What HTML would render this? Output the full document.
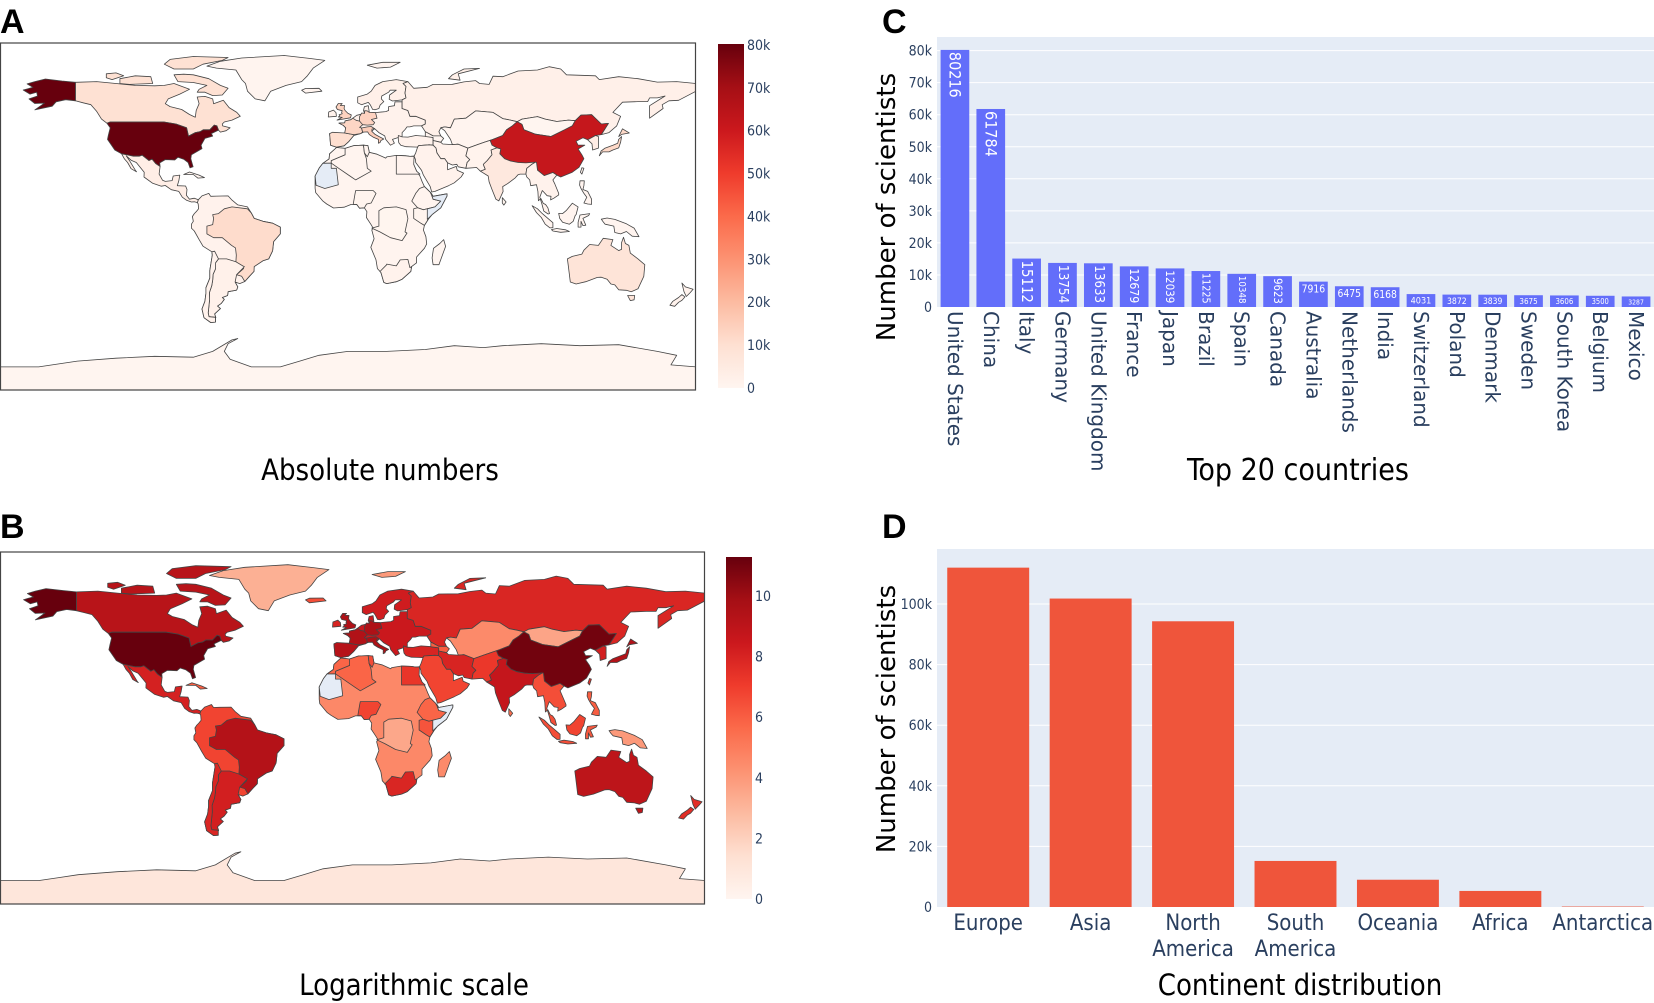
<!DOCTYPE html>
<html><head><meta charset="utf-8">
<style>
html,body{margin:0;padding:0;background:#fff;}
svg{display:block;}
.tk{font-family:"DejaVu Sans Condensed","DejaVu Sans","Liberation Sans",sans-serif;fill:#2a3f5f;}
.ttl{font-family:"DejaVu Sans Condensed","DejaVu Sans","Liberation Sans",sans-serif;fill:#000;}
.lbl{font-family:"Liberation Sans",sans-serif;font-weight:bold;fill:#000;}
</style></head>
<body>
<svg id="fig" width="1654" height="1003" viewBox="0 0 1654 1003" xmlns="http://www.w3.org/2000/svg">
<defs>
<linearGradient id="reds" x1="0" y1="1" x2="0" y2="0">
<stop offset="0" stop-color="rgb(255,245,240)"/><stop offset="0.125" stop-color="rgb(254,224,210)"/>
<stop offset="0.25" stop-color="rgb(252,187,161)"/><stop offset="0.375" stop-color="rgb(252,146,114)"/>
<stop offset="0.5" stop-color="rgb(251,106,74)"/><stop offset="0.625" stop-color="rgb(239,59,44)"/>
<stop offset="0.75" stop-color="rgb(203,24,29)"/><stop offset="0.875" stop-color="rgb(165,15,21)"/>
<stop offset="1" stop-color="rgb(103,0,13)"/></linearGradient>
<clipPath id="clipA"><rect x="0" y="43" width="696" height="347"/></clipPath>
<clipPath id="clipB"><rect x="0" y="552" width="705" height="352"/></clipPath>
</defs>
<text class="lbl" x="0" y="33" font-size="34">A</text>
<text class="lbl" x="0" y="538" font-size="34">B</text>
<text class="lbl" x="882" y="33" font-size="34">C</text>
<text class="lbl" x="882" y="538" font-size="34">D</text>
<g id="mapA"></g>
<g id="mapB"></g>
<g id="chartC"></g>
<g id="chartD"></g>
<text class="ttl" x="380" y="480" font-size="29" text-anchor="middle">Absolute numbers</text>
<text class="ttl" x="414" y="995" font-size="29" text-anchor="middle">Logarithmic scale</text>
<text class="ttl" x="1298" y="480" font-size="30" text-anchor="middle">Top 20 countries</text>
<text class="ttl" x="1300" y="995" font-size="29" text-anchor="middle">Continent distribution</text>
</svg>
<script>
// ---- Chart C data ----
const countries = ["United States","China","Italy","Germany","United Kingdom","France","Japan","Brazil","Spain","Canada","Australia","Netherlands","India","Switzerland","Poland","Denmark","Sweden","South Korea","Belgium","Mexico"];
const countryValues = [80216,61784,15112,13754,13633,12679,12039,11225,10348,9623,7916,6475,6168,4031,3872,3839,3675,3606,3500,3287];
const cTicks = [0,10000,20000,30000,40000,50000,60000,70000,80000];
const cTickLabels = ["0","10k","20k","30k","40k","50k","60k","70k","80k"];
// ---- Chart D data ----
const continents = [["Europe"],["Asia"],["North","America"],["South","America"],["Oceania"],["Africa"],["Antarctica"]];
const continentValues = [112000,101800,94300,15200,9000,5300,150];
const dTicks = [0,20000,40000,60000,80000,100000];
const dTickLabels = ["0","20k","40k","60k","80k","100k"];
// ---- Map data ----
const regionNames = ["Antarctica","Greenland","Canada","Baffin","Victoria","Ellesmere","Banks","Alaska","USA","Mexico","Cuba","SouthAmerica","Brazil","Argentina","Chile","Iceland","Scandinavia","Europe","Spain","France","Germany","Italy","UK","Ireland","Svalbard","Russia","NovayaZemlya","Turkey","Caucasus","CentralAsia","Mongolia","China","Korea","Japan","Hokkaido","Taiwan","Iran","Pakistan","India","SriLanka","Arabia","SEAsia","Philippines","Sumatra","Java","Borneo","Sulawesi","NewGuinea","Australia","Tasmania","NZNorth","NZSouth","Africa","Madagascar","Algeria","Morocco","Tunisia","Egypt","Nigeria","Ethiopia","Kenya","DRC","SouthAfrica","Mauritania","Somalia"];
const absValues = [80,300,9623,9623,9623,9623,9623,80216,80216,3287,300,1200,11225,1900,1500,400,2500,1500,10348,12679,13754,15112,13633,1200,300,2200,2200,1500,300,400,100,61784,3606,12039,12039,1000,1500,900,6168,200,1500,1200,300,400,400,400,400,300,7916,7916,1200,1200,300,100,400,400,300,800,600,500,600,200,1500,null,null];
const logValues = [1,3.2,9.17,9.17,9.17,9.17,9.17,11.29,11.29,8.1,6,6.8,9.33,8.2,7.9,6.5,8.3,8.5,9.24,9.45,9.53,9.62,9.52,8,4,7.9,7.9,8,6,4.5,3.6,11.03,8.2,9.4,9.4,7.5,8,7.2,8.73,5.5,6.8,6.5,6,6.5,6.5,6.8,6.2,4,8.98,8.98,7.6,7.6,4.6,4.5,5.8,5.8,6.6,7.3,6.8,5.8,6.3,3.5,7.9,null,null];

const geo = {
Antarctica:[[-180,-90],[-180,-78],[-160,-78],[-150,-76.5],[-140,-75],[-120,-73.5],[-100,-72.5],[-80,-73],[-70,-70],[-60,-64],[-57,-63.3],[-62,-66],[-64,-70],[-61,-74],[-50,-78],[-35,-78],[-25,-75],[-15,-72],[0,-70],[20,-70],[40,-69],[55,-67],[70,-68],[80,-67],[100,-66],[120,-67],[140,-66.5],[160,-70],[170,-72],[167,-77],[180,-78],[180,-90]],
Greenland:[[-73,78],[-66,80.5],[-55,82.2],[-33,83.5],[-20,82],[-12,81],[-18,77],[-21,73],[-24,70],[-32,68],[-40,65],[-43,60],[-48,61],[-52,65],[-53,69],[-55,71],[-58,76],[-68,77]],
Canada:[[-141,60],[-141,69.6],[-130,70],[-120,69],[-110,68],[-100,67.8],[-95,68],[-90,69],[-82,66],[-87,63.5],[-93,61],[-94.5,58.5],[-92,57],[-86,55.5],[-82,52.9],[-79,51.5],[-78.5,55],[-77,58.5],[-78,62],[-74,62.3],[-70,61],[-69.5,58.5],[-64.5,60.3],[-61.5,56.5],[-57.5,54],[-55.7,52],[-60,50],[-64,49],[-65,48],[-64.8,47],[-61,46],[-63,44.5],[-66,43.8],[-67,44.8],[-67.8,47],[-69.2,47.4],[-71.5,45],[-74.9,45],[-76.5,44],[-79,43.5],[-82.5,41.7],[-83.5,46],[-89,48],[-95.2,49],[-123,49],[-124.7,48.4],[-127.5,50.5],[-130,54.5],[-133,58],[-137,59]],
Baffin:[[-80,73.5],[-72,71.5],[-66,68],[-62,66.5],[-65,63],[-70,62.7],[-74,64.5],[-78,64.5],[-77,66],[-73,68],[-80,69.5],[-88,70],[-90,73.5],[-85,73.8]],
Victoria:[[-118,69],[-113,68.5],[-101,69],[-102,72.5],[-110,73],[-118,71.5]],
Ellesmere:[[-90,76.5],[-80,76.5],[-75,79],[-65,81],[-62,82.5],[-80,83],[-92,81.5],[-95,79]],
Banks:[[-125,72],[-122,71],[-116,73],[-120,74.5],[-125,74]],
Alaska:[[-141,60],[-141,69.6],[-148,70.3],[-156.5,71.3],[-162,70],[-166,68.8],[-163,67],[-165.5,66.3],[-168,65.6],[-164.5,63.5],[-161,64.5],[-160.6,62.5],[-165,61],[-162,58.6],[-157,58.8],[-162,55.3],[-153,57.2],[-151,59.5],[-146,60.6]],
USA:[[-124.7,48.4],[-123,46],[-124,42],[-124.4,40],[-120.6,34.5],[-117.1,32.5],[-111,31.3],[-108,31.3],[-106.5,31.8],[-103,29],[-101.4,29.8],[-99.5,27.5],[-97.2,25.9],[-97.4,27.8],[-94.5,29.5],[-89.6,29.3],[-88,30.7],[-85,29.7],[-82.7,28],[-81.7,25.2],[-80.1,25.8],[-81.3,30],[-81,32],[-75.5,35.2],[-76,37],[-74,40.5],[-70,41.7],[-70.7,43],[-67,44.8],[-67.8,47],[-69.2,47.4],[-71.5,45],[-74.9,45],[-76.5,44],[-79,43.5],[-82.5,41.7],[-83.5,46],[-89,48],[-95.2,49],[-123,49]],
Mexico:[[-117.1,32.5],[-111,31.3],[-108,31.3],[-106.5,31.8],[-103,29],[-101.4,29.8],[-99.5,27.5],[-97.2,25.9],[-97.7,22],[-95.9,18.8],[-94.5,18.2],[-91,18.6],[-90.4,21],[-87,21.5],[-87.5,18.5],[-88.3,16],[-84,15.8],[-83.3,14],[-83.6,11],[-82,9],[-79.5,9.5],[-77.4,8.7],[-77.9,7.2],[-79.5,7.6],[-81,7.5],[-83.5,8.4],[-85.7,10],[-87.5,13],[-91.4,13.9],[-94.5,16.1],[-96.5,15.7],[-101,17.2],[-105.5,20.5],[-105.4,23],[-109.5,28],[-112.2,29.2],[-114.7,31.5],[-113,29],[-110,24],[-109.4,23.2],[-112.2,24.8],[-114,28],[-115.7,30]],
Cuba:[[-85,21.8],[-82,23.1],[-77,21.5],[-74.2,20.2],[-77.7,19.9],[-80,21.8]],
SouthAmerica:[[-77.4,8.7],[-75.5,10.7],[-72,12],[-71,10.5],[-68,10.6],[-62,10.7],[-60,8.5],[-57,6],[-52,5],[-50,1.8],[-48.5,-1],[-44,-2.5],[-39,-3.5],[-35,-5.5],[-35,-9],[-38.5,-13],[-39,-17.8],[-41,-22],[-44,-23],[-48.5,-26],[-48.6,-28.5],[-51,-31],[-53.4,-33.7],[-56,-34.8],[-58.4,-34],[-57,-36.5],[-57.6,-38.2],[-62,-39],[-62.3,-41],[-65,-42],[-64,-43],[-65.5,-45],[-67.5,-46.5],[-66,-47.8],[-69,-50.5],[-68.4,-52.4],[-70,-52.7],[-68.6,-54.8],[-71,-55],[-74.5,-52.5],[-75.5,-48],[-74,-44],[-73.5,-40],[-73.5,-37],[-71.5,-32],[-71.5,-28],[-70.2,-20],[-70.4,-18.3],[-75,-15.4],[-77,-12],[-79.5,-7.5],[-81,-6],[-81,-4],[-80,-2.5],[-80.5,0],[-79.5,1.5],[-78.5,2.5],[-77.3,4],[-77.5,6.5],[-77.9,7.2]],
Brazil:[[-60,5],[-52,4],[-50,1.8],[-48.5,-1],[-44,-2.5],[-39,-3.5],[-35,-5.5],[-35,-9],[-38.5,-13],[-39,-17.8],[-41,-22],[-44,-23],[-48.5,-26],[-48.6,-28.5],[-51,-31],[-53.4,-33.7],[-55,-31],[-57.6,-30.2],[-54,-27],[-54.6,-25.5],[-58,-23.5],[-57.8,-20],[-58.2,-16.3],[-60.2,-15],[-65,-11],[-69.5,-11],[-73,-9],[-73,-5],[-70,-4.2],[-69.5,-1],[-70,1],[-67,1.5],[-64,4]],
Argentina:[[-53.6,-26],[-57.6,-30.2],[-58.4,-34],[-57,-36.5],[-57.6,-38.2],[-62,-39],[-62.3,-41],[-65,-42],[-64,-43],[-65.5,-45],[-67.5,-46.5],[-66,-47.8],[-69,-50.5],[-68.4,-52.4],[-70,-52.7],[-68.6,-54.8],[-68.6,-52.3],[-71.9,-52],[-72.3,-50],[-71.9,-46],[-71.6,-43],[-71.7,-39.5],[-70.5,-36],[-70,-33],[-69.8,-30],[-68.5,-27],[-68.5,-24],[-67,-22],[-62.8,-22],[-58,-23.5],[-54.6,-25.5]],
Chile:[[-70.4,-18.3],[-69,-18],[-67,-22],[-68.5,-24],[-68.5,-27],[-69.8,-30],[-70,-33],[-70.5,-36],[-71.7,-39.5],[-71.6,-43],[-71.9,-46],[-72.3,-50],[-71.9,-52],[-68.6,-52.3],[-68.6,-54.8],[-71,-55],[-74.5,-52.5],[-75.5,-48],[-74,-44],[-73.5,-40],[-73.5,-37],[-71.5,-32],[-71.5,-28],[-70.2,-20]],
Iceland:[[-22,64],[-13.5,65],[-15,66.5],[-22,66.4],[-24,65.5]],
Scandinavia:[[5,62],[5,59],[7,58],[10.5,59.2],[11.5,58],[12.8,55.5],[14,55.4],[16,56],[16.6,57.8],[18.5,59.6],[17.2,61],[17.5,62.5],[21,64.5],[21.8,65.5],[25,65.5],[21.5,63],[21.3,60.8],[23,59.9],[28,60.5],[30,61.5],[29.5,64],[30,67.5],[28.5,69],[31,70],[25,71],[18,70],[14,68],[12,65],[10,63.5]],
Europe:[[-9.5,43],[-9,37],[-6,36],[-2,36.7],[0.5,39],[3,42],[6.5,43],[9,44.3],[12.3,44.2],[13.7,45.6],[16,43.5],[19,41.8],[19.5,40],[22,37],[24,38],[23,40],[26,41],[28,41],[28,43.5],[29.6,45.2],[30.5,46.5],[32,46.5],[34,47],[38,47],[40,48],[40,50],[35,52],[32,52],[31,55],[28,56],[28,59.5],[24.3,59.5],[24,57.5],[21,57],[21,55],[19.5,54.4],[14.2,53.9],[11,54],[10.5,57.5],[8.5,57],[8,55],[8.6,53.5],[4.5,52.5],[2.5,51],[1.5,50.2],[-1.5,49.6],[-1.7,48.6],[-4.7,48.4],[-2.5,47.3],[-1.2,46],[-1.5,43.4]],
Spain:[[-9.5,43],[-9,37],[-6,36],[-2,36.7],[0.5,39],[3,42],[3,42.5],[-1.7,43.3],[-8,43.7]],
France:[[2.5,51],[4.2,49.9],[6,49.5],[8.2,49],[7.6,47.6],[6,46.2],[7,45.9],[7.6,43.8],[6.5,43],[3,42.5],[-1.7,43.3],[-1.2,46],[-2.5,47.3],[-4.7,48.4],[-1.7,48.6],[-1.5,49.6],[1.5,50.2]],
Germany:[[6,51.8],[6,49.5],[7.6,47.6],[10,47.4],[13,47.6],[13.8,48.7],[12.1,50.3],[15,51],[14.2,53.9],[11,54],[10,54.8],[8.6,54.9],[8.6,53.5],[7.1,53.7]],
Italy:[[7.6,43.8],[10.2,43.9],[11,42.5],[13,41.2],[15.7,40],[15.7,38],[16.6,38.4],[17,39.4],[18.5,40.2],[16,41.5],[14,42.6],[12.3,44.2],[12.4,45.4],[13.7,45.6],[12,46.7],[10,46.5],[7,45.9]],
UK:[[-5.7,50],[1.3,51.2],[1.7,52.7],[0,53.5],[-1.5,55],[-2,56],[-1.8,57.6],[-4,57.6],[-3,58.6],[-5,58.6],[-6.2,56.8],[-5.5,55.5],[-3,54.9],[-3.3,54],[-3,53.3],[-4.6,52.8],[-4.2,52.2],[-5,51.6],[-3,51.4]],
Ireland:[[-6,52],[-6.2,53.9],[-7.5,55.2],[-10,54.2],[-10.2,51.6]],
Svalbard:[[10,78.5],[18,80],[27,80],[22,77.5],[15,77]],
Russia:[[28,56],[31,55],[32,52],[35,52],[40,50],[40,48],[38,47],[40,44],[44,41.8],[48,41.8],[47,44],[48,46],[50,46.5],[53,46],[55,50.5],[61,51],[66,54.8],[75,54],[80,50.8],[84,50],[87.5,49.2],[90,50.5],[98,51.8],[102,50.5],[108,49.3],[114,50],[117.5,49.7],[120.5,52.6],[126,52.8],[131,48],[134.7,48.3],[131,42.5],[135,43.5],[139,47],[141,52],[137,54],[142,59.3],[150,59.6],[155,59.6],[156,61.5],[160,61.5],[164,62.5],[156,57.5],[156,51],[163,56],[162.5,58],[166,60],[171,60.3],[180,65],[180,69],[170,70],[160,69.7],[150,71.5],[140,72.5],[130,71],[128,73],[113,73.5],[110,76.5],[104,77.7],[98,76],[88,75.5],[80,72.5],[75,72.8],[73,68.5],[68,69],[66,70.5],[60,69.8],[54,68.6],[44,68.5],[41,67],[34,66.5],[31,70],[28.5,69],[30,67.5],[29.5,64],[30,61.5],[28,60.5],[28,59.5]],
NovayaZemlya:[[52,71.5],[58,70.7],[57,74],[68,76.8],[60,76.5],[54,73.5]],
Turkey:[[26,40],[26,42],[28,41.3],[31,41.2],[35,42],[41.5,41.5],[44,41],[44,39.4],[44,37],[42,37.2],[36.5,36.8],[36,36],[32.5,36.1],[30,36.2],[27.3,37],[26.3,38.3]],
Caucasus:[[40,41.5],[44,41],[44,39.4],[48,38.5],[49.5,40.5],[48,41.8],[44,41.8],[40,44]],
CentralAsia:[[48,46],[50,46.5],[53,46],[55,50.5],[61,51],[66,54.8],[75,54],[80,50.8],[84,50],[87.5,49.2],[85,47],[82,45],[80,42],[75,40],[70.5,38.5],[67,37.3],[62,35.5],[57,37.5],[54,37.3],[53,40],[50,44.5]],
Mongolia:[[87.5,49.2],[90,50.5],[98,51.8],[102,50.5],[108,49.3],[114,50],[117.5,49.7],[116,47],[112,45],[105,41.5],[97,42.7],[91,45],[90,47.8]],
China:[[73.5,39.5],[75,40],[80,42],[82,45],[85,47],[87.5,49.2],[90,47.8],[91,45],[97,42.7],[105,41.5],[112,45],[116,47],[117.5,49.7],[120.5,52.6],[126,52.8],[131,48],[134.7,48.3],[131,42.5],[128,42],[124,39.8],[121.5,40.8],[118,39],[119,37],[122.5,37],[119,35],[121,32],[122,30],[119.5,25.5],[116,23],[110,20.5],[108,21.5],[106,22.8],[101.5,21.2],[98,24],[97.5,28],[92,27.8],[88,28],[84,28.8],[81,30],[78.5,32.5],[79,35],[77,35.6],[74.5,37]],
Korea:[[124,39.8],[128,42],[129.5,41.5],[129.5,35.5],[126.5,34.5],[126.2,37.7]],
Japan:[[130,31.5],[131.7,33.5],[135,33.5],[137,34.5],[140,35.6],[141,38.5],[141.5,41.5],[140,40],[139.5,38],[137,37],[133,35.5],[130.9,34]],
Hokkaido:[[140,41.5],[141.5,42.6],[145.5,43.3],[142,45.5]],
Taiwan:[[120.2,23],[121,22],[122,25],[121,25.3]],
Iran:[[44,39.4],[48,38.5],[49,37.6],[54,37.3],[57,37.5],[62,35.5],[61,31.5],[63,29.5],[61.6,28],[61,25],[57,25.8],[56.3,27.1],[54,26.7],[51.5,27.8],[50,30],[48,30],[46,33],[45.5,35.5],[44,37]],
Pakistan:[[61,25],[66.5,25.4],[68.5,23.5],[71,24.5],[70,27],[72,29],[74.5,32],[74,34.5],[77,35.6],[74.5,37],[73.5,39.5],[70.5,38.5],[67,37.3],[62,35.5],[61,31.5],[63,29.5],[61.6,28]],
India:[[68.5,23.5],[72.5,21],[73,18],[74.5,14],[76.5,9],[78,8.1],[80.2,13],[80,15.5],[82.5,17],[86.5,20],[88,21.7],[89,22],[92,22],[92.5,25],[95,27],[97,28.2],[92,27.8],[88,28],[84,28.8],[81,30],[78.5,32.5],[79,35],[77,35.6],[74,34.5],[74.5,32],[72,29],[70,27],[71,24.5]],
SriLanka:[[79.8,9.8],[81.8,7.5],[80.6,5.9],[79.8,7]],
Arabia:[[35,33],[36,36],[36.5,36.8],[42,37.2],[44,37],[45.5,35.5],[46,33],[48,30],[50,30],[51.5,27.8],[51.5,24.2],[56,26],[56.5,24],[59.8,22.5],[58.5,20.5],[55,17.5],[52,16],[45,13],[43.3,12.7],[42.5,15.5],[39,21.5],[38,24],[35,28],[34.9,29.5],[34.2,31.3]],
SEAsia:[[92,22],[92.5,25],[95,27],[97,28.2],[97.5,28],[98,24],[101.5,21.2],[106,22.8],[108,21.5],[106,19],[107,16.8],[109,12],[109,11.2],[106.5,9.5],[104.8,8.6],[105,10.5],[103,10.8],[100.5,13.5],[99.2,10],[100.3,6.5],[101.3,2.8],[103.5,1.3],[104.2,1.5],[103.4,4.5],[102.2,6.2],[101,6.8],[99.8,9.3],[98.5,8.2],[98.2,13],[97.5,16.5],[94.5,16],[94,19],[92.5,20.5]],
Philippines:[[120,18.5],[122.2,18.5],[122,16],[121.5,14],[124,13],[126,9],[126,6.3],[124,6.5],[122,7],[123.5,10],[122,12],[120.5,14.5],[119.8,16.3]],
Sumatra:[[95.2,5.6],[98,4],[100.5,1.5],[104,-1.5],[106,-3.2],[106,-5.8],[104.5,-5.9],[102,-4],[100,-0.5],[97.5,2]],
Java:[[105.2,-6.8],[108,-6.2],[112.5,-6.9],[114.5,-7.8],[110,-8.2],[106,-7.5]],
Borneo:[[109,1.6],[111,1.5],[113,3.2],[116,6.9],[119,5],[118,1],[117.5,0.5],[116.5,-2.5],[114.5,-4],[111,-3],[109.5,-1]],
Sulawesi:[[119,-5.5],[120.5,-5.5],[120.5,-2.5],[121.5,-4.7],[123,-4.5],[121.5,-1],[124.5,0.5],[125,1.5],[120,0.8],[119,-3]],
NewGuinea:[[131,-1.4],[134,-0.8],[138,-1.5],[144,-3.8],[148,-6],[150.5,-10.5],[147,-10.2],[144,-7.8],[141,-9],[138,-8.3],[137.5,-5],[133,-4],[132,-2.8]],
Australia:[[113.5,-22],[114,-26],[115,-34],[118,-35],[123,-33.8],[129,-31.6],[131,-31.5],[134,-32.5],[136,-35],[138,-35.5],[140,-38],[144,-38.3],[146.5,-39],[150,-37.5],[153,-31],[153.5,-25],[150,-22],[146,-19],[145.3,-15],[143.5,-14],[142.5,-10.8],[141.5,-13.5],[141.5,-17],[140,-17.7],[136,-15],[137,-12],[132,-11.3],[129.5,-15],[125,-14.5],[122,-17.5],[121,-19.5],[116,-20.7]],
Tasmania:[[144.6,-41],[148.3,-41],[148,-43.2],[146,-43.6]],
NZNorth:[[172.7,-34.5],[174.5,-36.5],[178.5,-37.7],[177,-39.5],[175,-41.5],[174,-39.5],[173.8,-39]],
NZSouth:[[172.7,-40.5],[174.3,-41.7],[172.7,-43.5],[171,-44.5],[169,-46.6],[166.5,-46],[168,-44],[171,-42]],
Africa:[[-17,21],[-17,14.7],[-16.7,12.4],[-13,8],[-11,6.5],[-7.5,4.4],[-2,4.8],[1.5,6.2],[4.5,6.3],[6,4.3],[8.5,4.5],[9.8,2.5],[9.5,-0.5],[11.8,-4],[13,-6],[12.3,-7],[13.5,-11.5],[11.8,-16],[14.5,-22.5],[15.2,-27],[17,-29],[18.5,-34.2],[20,-34.8],[25,-33.8],[28,-32.5],[32.5,-28.5],[32.9,-26],[35.5,-24],[35.5,-21],[39.5,-16.5],[40.7,-14.2],[40.3,-10.5],[39,-7],[39.5,-4.6],[41.5,-1.5],[43.5,1],[48,4.5],[51.2,10.6],[51.2,11.8],[44,10.5],[43.3,11.8],[42.5,12.6],[39.5,15.5],[38.4,18],[37.2,21],[35.5,23.5],[34,27],[32.5,30],[34.2,31.3],[32,31.2],[30,31.5],[25,31.7],[20,30.9],[19.5,30.3],[15,32.3],[11,33.3],[10.3,36.8],[8,37],[3,36.8],[-1.5,35.3],[-5.9,35.8],[-9.5,32.5],[-9.8,29.9],[-13,27.6],[-14.8,25.3]],
Madagascar:[[44,-25],[47,-25],[50.5,-15.5],[49.5,-12],[47.5,-14],[44.2,-16.5],[43.5,-21.5]],
Algeria:[[-8.7,27.7],[-8.7,29],[-1.5,32],[-1.5,35.3],[3,36.8],[8,37],[8.5,33],[9.5,30],[10,25],[12,23.5],[4,19],[1,21],[-4.8,25]],
Morocco:[[-5.9,35.8],[-1.5,35.3],[-1.5,32],[-8.7,29],[-8.7,27.7],[-13,27.6],[-9.8,29.9],[-9.5,32.5]],
Tunisia:[[8.5,33],[8,37],[10.3,36.8],[11,33.3],[10,31]],
Egypt:[[25,31.7],[30,31.5],[32,31.2],[34.2,31.3],[34,27],[35.5,23.5],[37.2,22],[25,22]],
Nigeria:[[2.7,6.3],[4.5,6.3],[6,4.3],[8.5,4.5],[9.6,6.5],[12,7],[14.5,12],[13,13.5],[4,13.5],[3.6,11.7]],
Ethiopia:[[33,8],[36,4.5],[39,3.5],[41,4],[45,5],[48,8],[44,9],[43.3,11],[42.5,12.6],[39.5,15.5],[37,14.5],[35,12]],
Kenya:[[34,-1],[37.8,-3.6],[39.5,-4.6],[41.5,-1.5],[41,4],[39,3.5],[36,4.5],[34,4]],
DRC:[[12.3,-6],[16,-5],[16,3],[18.5,4.5],[25,5],[30,3.6],[31,-1.1],[29.5,-8],[30.5,-8.6],[28,-12.5],[22,-11],[16.5,-8]],
SouthAfrica:[[16.5,-28.6],[20,-25],[20,-24.7],[25,-25.6],[27,-22.5],[31,-22.3],[32,-26.5],[32.9,-26],[32.5,-28.5],[28,-32.5],[25,-33.8],[20,-34.8],[18.5,-34.2],[17,-29]],
Mauritania:[[-17,21],[-14.8,25.3],[-13,27.6],[-8.7,27.7],[-8.7,25],[-6,25],[-5,16.5],[-12,14.5],[-16.5,16.2]],
Somalia:[[41,-1.5],[41,4],[45,5],[48,8],[44,9],[43.3,11],[44,10.5],[51.2,11.8],[51.2,10.6],[48,4.5],[43.5,1]]
};

const NS='http://www.w3.org/2000/svg';
const stops=[[0,255,245,240],[0.125,254,224,210],[0.25,252,187,161],[0.375,252,146,114],[0.5,251,106,74],[0.625,239,59,44],[0.75,203,24,29],[0.875,165,15,21],[1,103,0,13]];
function reds(t){t=Math.max(0,Math.min(1,t));for(let i=1;i<stops.length;i++){if(t<=stops[i][0]){const a=stops[i-1],b=stops[i],f=(t-a[0])/(b[0]-a[0]);return 'rgb('+[1,2,3].map(k=>Math.round(a[k]+(b[k]-a[k])*f)).join(',')+')';}}return 'rgb(103,0,13)';}
function el(tag,attrs,parent){const e=document.createElementNS(NS,tag);for(const k in attrs)e.setAttribute(k,attrs[k]);parent.appendChild(e);return e;}

function drawMap(gid,clip,x0,y0,w,h,vals,vmax,cbx,cby0,cby1,ticks,tickLabels,prefix){
  const g=document.getElementById(gid);
  const px=lon=>x0+(lon+180)/360*w, py=lat=>y0+(90-lat)/180*h;
  const mg=el('g',{'clip-path':'url(#'+clip+')'},g);
  regionNames.forEach((n,i)=>{
    const v=vals[i];
    const fill=v==null?'#E5ECF6':reds(v/vmax);
    const p=el('polygon',{points:geo[n].map(c=>px(c[0]).toFixed(1)+','+py(c[1]).toFixed(1)).join(' '),fill:fill,stroke:'#444',"stroke-width":'0.8',"stroke-linejoin":'round'},mg);
    
    
  });
  const box=el('rect',{x:x0+0.5,y:y0,width:w-1,height:h,fill:'none',stroke:'#444','stroke-width':'1.2'},g);
  
  
  const cb=el('rect',{x:cbx,y:cby0,width:26,height:cby1-cby0,fill:'url(#reds)'},g);
  
  
  ticks.forEach((t,i)=>{
    const y=cby1-(t/vmax)*(cby1-cby0);
    const tx=el('text',{x:cbx+29,y:y+5,'font-size':'14',class:'tk'},g);
    tx.textContent=tickLabels[i];
    
    
  });
}
drawMap('mapA','clipA',0,43,696,347,absValues,80216,718,44,388,[0,10000,20000,30000,40000,50000,60000,70000,80000],["0","10k","20k","30k","40k","50k","60k","70k","80k"],'map-a');
drawMap('mapB','clipB',0,552,705,352,logValues,11.29,726,557,899,[0,2,4,6,8,10],["0","2","4","6","8","10"],'map-b');

// ---- Chart C ----
(function(){
  const g=document.getElementById('chartC');
  const X0=937,X1=1654,Y0=37,Y1=307,VMAX=80000,YTOP=50.6;
  const yv=v=>Y1-v/VMAX*(Y1-YTOP);
  const step=(X1-X0)/countries.length, bw=step*0.8;
  const bg=el('rect',{x:X0,y:Y0,width:X1-X0,height:Y1-Y0,fill:'#E5ECF6'},g);
  
  
  cTicks.forEach((t,i)=>{
    if(t>0){const l=el('line',{x1:X0,x2:X1,y1:yv(t),y2:yv(t),stroke:'#fff','stroke-width':'1'},g);
      
      }
    const tx=el('text',{x:X0-5,y:yv(t)+5,'font-size':'14','text-anchor':'end',class:'tk'},g);
    tx.textContent=cTickLabels[i];
    
    
  });
  countries.forEach((c,i)=>{
    const cx=X0+(i+0.5)*step, v=countryValues[i], top=yv(v), bh=Y1-top;
    const r=el('rect',{x:cx-bw/2,y:top,width:bw,height:bh,fill:'#636EFA'},g);
    
    
    const s=String(v), L=s.length;
    const hs=Math.min(16,(bw-4)/(L*0.6),(bh-3)/1.1), rs=Math.min(16,(bh-4)/(L*0.6),(bw-4)/1.1);
    let t;
    if(rs>=hs){t=el('text',{x:0,y:0,'font-size':rs.toFixed(1),fill:'#fff','dominant-baseline':'central',transform:'translate('+cx+','+(top+2)+') rotate(90)',class:'tk',style:'fill:#fff'},g);}
    else{t=el('text',{x:cx,y:top+2+hs*0.85,'font-size':hs.toFixed(1),'text-anchor':'middle',class:'tk',style:'fill:#fff'},g);}
    t.textContent=s;
    
    
    const xl=el('text',{x:0,y:0,'font-size':'20','dominant-baseline':'central',transform:'translate('+cx+','+(Y1+4)+') rotate(90)',style:'font-family:"DejaVu Sans",sans-serif;fill:#2a3f5f'},g);
    xl.textContent=c;
    
    
  });
  const yt=el('text',{x:0,y:0,'font-size':'26','text-anchor':'middle',transform:'translate(895,207) rotate(-90)',style:'font-family:"DejaVu Sans",sans-serif;fill:#000'},g);
  yt.textContent='Number of scientists';
  
  
})();

// ---- Chart D ----
(function(){
  const g=document.getElementById('chartD');
  const X0=937,X1=1654,Y0=549,Y1=907,PER=(907-604)/100000;
  const yv=v=>Y1-v*PER;
  const step=(X1-X0)/continents.length, bw=step*0.8;
  const bg=el('rect',{x:X0,y:Y0,width:X1-X0,height:Y1-Y0,fill:'#E5ECF6'},g);
  
  
  dTicks.forEach((t,i)=>{
    if(t>0){const l=el('line',{x1:X0,x2:X1,y1:yv(t),y2:yv(t),stroke:'#fff','stroke-width':'1'},g);
      
      }
    const tx=el('text',{x:X0-5,y:yv(t)+5,'font-size':'14','text-anchor':'end',class:'tk'},g);
    tx.textContent=dTickLabels[i];
    
    
  });
  continents.forEach((c,i)=>{
    const cx=X0+(i+0.5)*step, top=yv(continentValues[i]);
    const r=el('rect',{x:cx-bw/2,y:top,width:bw,height:Y1-top,fill:'#EF553B'},g);
    
    
    c.forEach((ln,j)=>{
      const t=el('text',{x:cx,y:930+j*26,'font-size':'22','text-anchor':'middle',class:'tk'},g);
      t.textContent=ln;
      
      
    });
  });
  const yt=el('text',{x:0,y:0,'font-size':'26','text-anchor':'middle',transform:'translate(895,719) rotate(-90)',style:'font-family:"DejaVu Sans",sans-serif;fill:#000'},g);
  yt.textContent='Number of scientists';
  
  
})();
</script>
</body></html>
